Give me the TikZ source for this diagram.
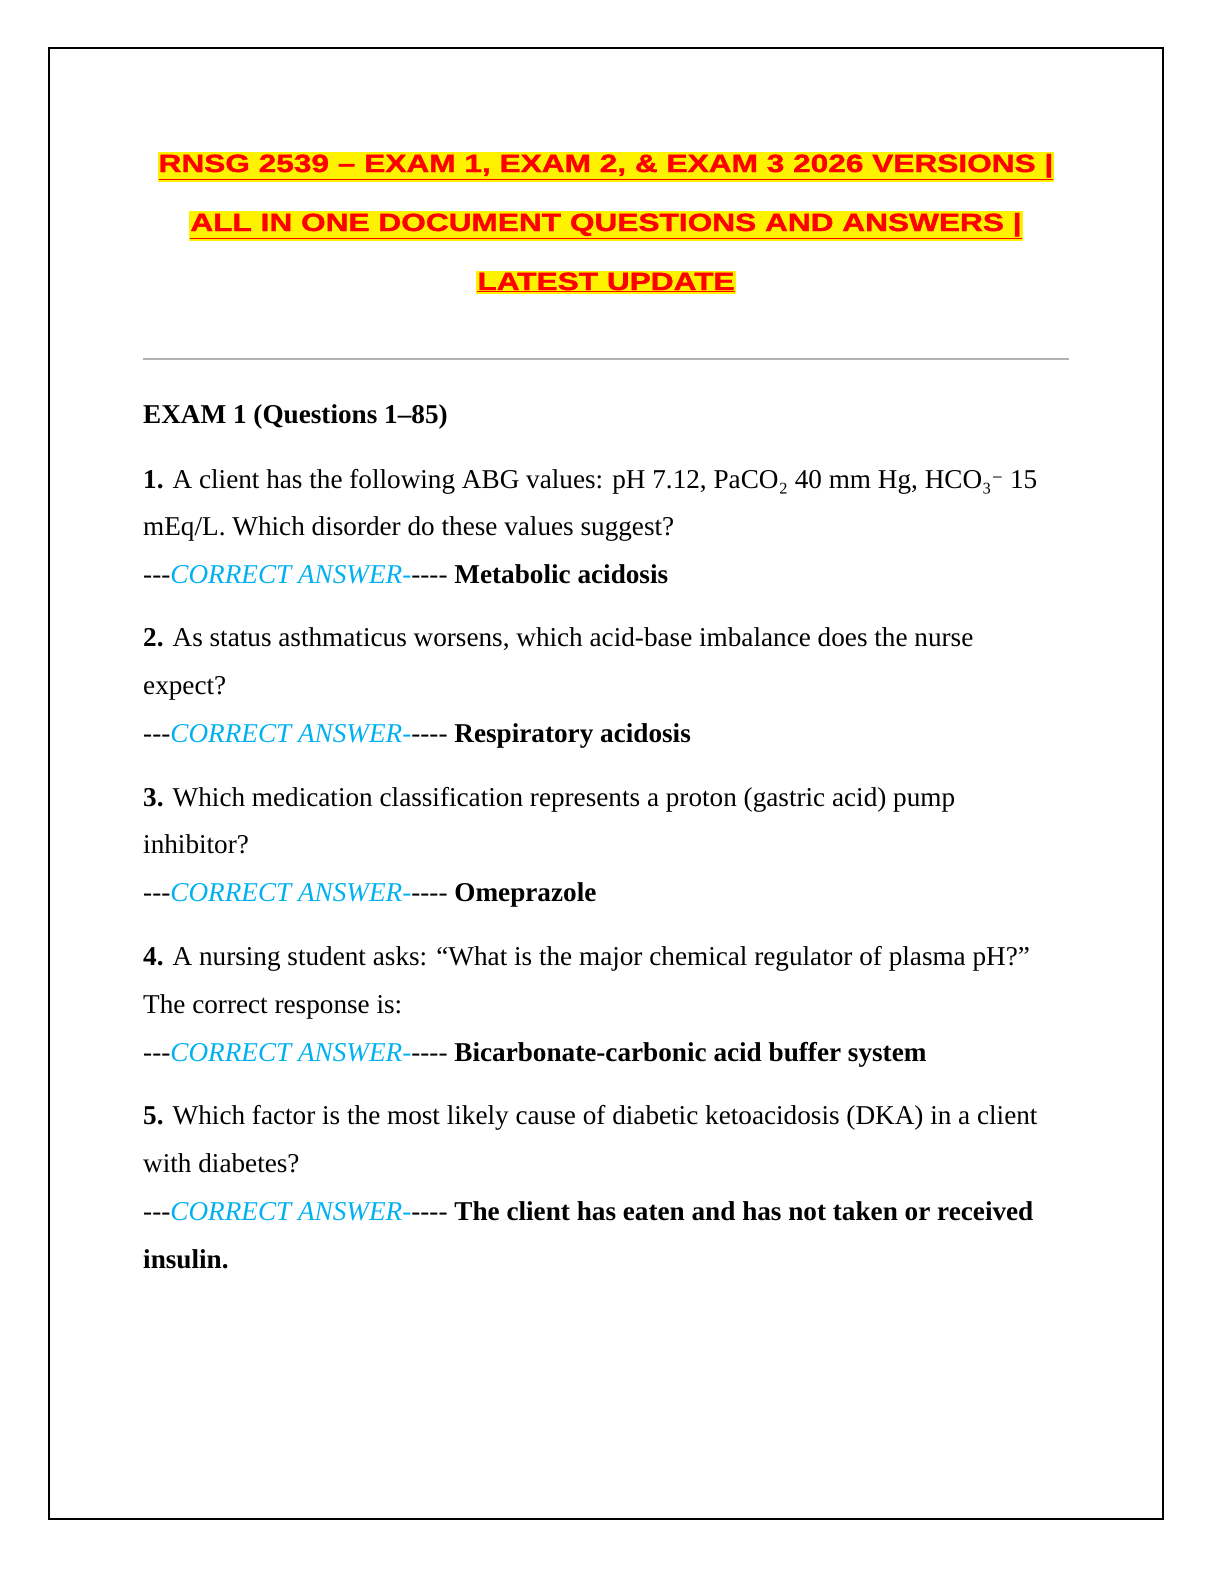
\documentclass[tikz,border=0pt]{standalone}
\usepackage{fontspec}
\setmainfont{Liberation Serif}
\newfontfamily\arialf[FakeStretch=1.27,FakeBold=1.5]{Liberation Sans}
\newfontfamily\dvs{DejaVu Serif}
\begin{document}
\begin{tikzpicture}[x=1bp,y=-1bp,
 ttl/.style={font=\arialf\fontsize{25}{30}\selectfont\bfseries, text=red, fill=yellow, inner xsep=1pt, inner ysep=2pt, anchor=base},
 bd/.style={font=\fontsize{27.3}{32}\selectfont, anchor=base west, inner sep=0pt},
 ans/.style={bd}]
\definecolor{ansblue}{RGB}{0,176,240}
\useasboundingbox (0,0) rectangle (1224,1584);
\draw[line width=2.5pt] (49,48) rectangle (1163,1519);
\node[ttl] (t1) at (606,172) {\underline{RNSG 2539 – EXAM 1, EXAM 2, \& EXAM 3 2026 VERSIONS |}};
\node[ttl] (t2) at (606,231) {\underline{ALL IN ONE DOCUMENT QUESTIONS AND ANSWERS |}};
\node[ttl] (t3) at (606,290) {\underline{LATEST UPDATE}};
\draw[gray!60, line width=1.2pt] (143,359) -- (1069,359);
\newcommand{\ca}{-{}-{}-{\color{ansblue}\itshape CORRECT ANSWER-}-{}-{}-{}- }
\node[bd] (h) at (143,423) {\bfseries EXAM 1 (Questions 1–85)};
\node[bd] (q1a) at (143,488) {\textbf{1.} A client has the following ABG values: pH 7.12, PaCO₂ 40 mm Hg, HCO₃{\dvs\fontsize{22}{26}\selectfont ⁻} 15};
\node[bd] (q1b) at (143,535) {mEq/L. Which disorder do these values suggest?};
\node[ans] (a1) at (143,583) {\ca\textbf{Metabolic acidosis}};
\node[bd] (q2a) at (143,646) {\textbf{2.} As status asthmaticus worsens, which acid-base imbalance does the nurse};
\node[bd] (q2b) at (143,694) {expect?};
\node[ans] (a2) at (143,742) {\ca\textbf{Respiratory acidosis}};
\node[bd] (q3a) at (143,806) {\textbf{3.} Which medication classification represents a proton (gastric acid) pump};
\node[bd] (q3b) at (143,853) {inhibitor?};
\node[ans] (a3) at (143,901) {\ca\textbf{Omeprazole}};
\node[bd] (q4a) at (143,965) {\textbf{4.} A nursing student asks: “What is the major chemical regulator of plasma pH?”};
\node[bd] (q4b) at (143,1013) {The correct response is:};
\node[ans] (a4) at (143,1061) {\ca\textbf{Bicarbonate-carbonic acid buffer system}};
\node[bd] (q5a) at (143,1124) {\textbf{5.} Which factor is the most likely cause of diabetic ketoacidosis (DKA) in a client};
\node[bd] (q5b) at (143,1172) {with diabetes?};
\node[ans] (a5) at (143,1220) {\ca\textbf{The client has eaten and has not taken or received}};
\node[bd] (a5b) at (143,1268) {\textbf{insulin.}};
\end{tikzpicture}
\end{document}
